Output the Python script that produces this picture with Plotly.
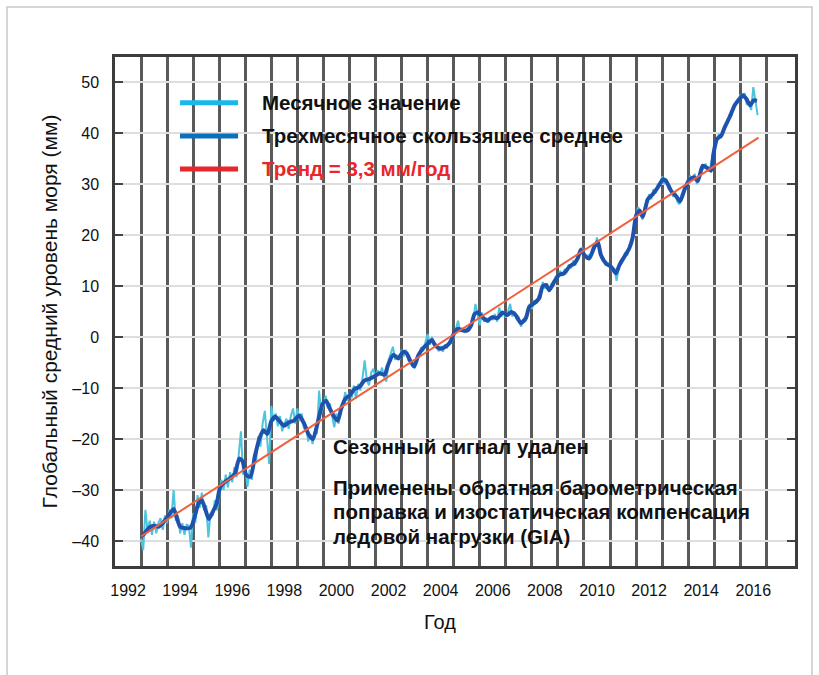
import plotly.graph_objects as go

# Global mean sea level, monthly values (mm), starting January 1993
START_YEAR = 1993.0
MONTHLY_MM = [
    # 1993
    -39.5, -41.8, -33.9, -38.0, -36.0, -38.8, -36.2, -38.5, -36.5, -35.5, -37.8, -35.0,
    # 1994
    -36.5, -33.8, -35.5, -30.0, -36.0, -35.0, -38.5, -36.5, -38.8, -36.8, -37.0, -41.3,
    # 1995
    -34.5, -36.5, -31.0, -33.5, -30.5, -34.0, -33.0, -39.3, -34.5, -35.0, -32.0, -34.0,
    # 1996
    -31.5, -28.0, -30.0, -27.0, -29.5, -26.5, -28.5, -25.5, -27.5, -22.5, -18.5, -27.0,
    # 1997
    -25.5, -29.4, -26.0, -28.0, -23.0, -24.5, -19.5, -21.5, -17.0, -14.5, -19.0, -24.9,
    # 1998
    -13.5, -16.5, -15.0, -17.5, -15.5, -18.5, -17.0, -16.0, -18.0, -15.5, -14.0, -17.0,
    # 1999
    -14.0, -16.5, -15.0, -18.0, -17.5, -20.5, -19.0, -21.0, -18.5, -19.0, -10.5, -15.0,
    # 2000
    -13.5, -11.5, -14.0, -13.0, -15.5, -17.7, -15.0, -17.0, -13.5, -13.5, -10.8, -12.5,
    # 2001
    -11.0, -12.0, -9.5, -12.1, -9.2, -10.5, -8.0, -4.6, -8.5, -9.5, -7.0, -6.2,
    # 2002
    -8.0, -6.5, -7.5, -6.0, -8.0, -8.7, -4.5, -3.3, -1.9, -4.5, -3.5, -4.5,
    # 2003
    -2.5, -3.8, -2.5, -4.5, -5.0, -5.8, -6.0, -4.0, -3.8, -2.0, -2.8, -1.0,
    # 2004
    0.6, -1.5, 0.0, -1.5, -1.5, -2.8, -1.8, -2.9, -1.5, -2.0, -0.8, -1.0,
    # 2005
    0.0, 1.5, 3.2, 1.0, 1.8, 0.8, 1.8, 1.2, 2.8, 3.2, 6.5, 4.5,
    # 2006
    2.3, 4.8, 3.0, 3.8, 2.8, 4.0, 3.5, 4.5, 3.0, 5.8, 4.0, 5.0,
    # 2007
    3.8, 5.0, 6.5, 4.0, 5.0, 3.5, 3.8, 2.0, 3.5, 3.0, 5.0, 6.5,
    # 2008
    5.5, 7.2, 6.5, 8.0, 7.8, 10.8, 9.5, 10.5, 8.8, 10.5, 10.0, 12.0,
    # 2009
    11.5, 13.0, 12.0, 13.2, 12.8, 14.2, 13.5, 15.0, 14.0, 16.0, 16.5, 17.5,
    # 2010
    16.5, 15.5, 16.0, 15.5, 17.5, 17.5, 19.5, 17.5, 15.5, 15.5, 14.0, 14.5,
    # 2011
    14.0, 13.0, 13.5, 11.0, 13.5, 15.0, 15.0, 16.5, 16.0, 18.0, 18.5, 22.0,
    # 2012
    23.5, 25.5, 24.0, 23.0, 25.5, 26.5, 28.0, 27.0, 29.0, 28.2, 30.0, 29.5,
    # 2013
    31.5, 30.0, 31.0, 29.0, 29.0, 27.5, 28.5, 26.5, 26.0, 28.0, 28.0, 30.0,
    # 2014
    30.5, 31.5, 31.0, 32.0, 30.0, 31.5, 33.5, 33.0, 34.0, 32.5, 33.0, 35.0,
    # 2015
    37.0, 38.0, 39.8, 39.0, 40.5, 41.5, 42.0, 43.5, 43.5, 45.5, 46.0, 46.0,
    # 2016
    47.5, 47.0, 47.8, 45.5, 46.0, 44.5, 49.0, 45.8, 43.5,
]

# Three-month running mean (decimal year, mm)
SMOOTH_YEARS = [
    1993.0, 1993.1, 1993.3, 1993.5, 1993.67, 1993.85, 1994.05, 1994.25, 1994.37, 1994.5,
    1994.7, 1994.9, 1995.05, 1995.2, 1995.33, 1995.46, 1995.6, 1995.78, 1995.9, 1996.04,
    1996.23, 1996.42, 1996.6, 1996.77, 1996.9, 1997.04, 1997.2, 1997.38, 1997.55, 1997.7,
    1997.85, 1998.0, 1998.15, 1998.3, 1998.49, 1998.68, 1998.87, 1999.07, 1999.26, 1999.45,
    1999.6, 1999.77, 1999.97, 2000.1, 2000.25, 2000.42, 2000.55, 2000.68, 2000.84, 2001.0,
    2001.19, 2001.38, 2001.58, 2001.77, 2001.96, 2002.15, 2002.35, 2002.48, 2002.68, 2002.87,
    2003.06, 2003.19, 2003.32, 2003.48, 2003.65, 2003.84, 2004.03, 2004.16, 2004.29, 2004.48,
    2004.68, 2004.87, 2005.0, 2005.15, 2005.32, 2005.52, 2005.67, 2005.8, 2005.93, 2006.1,
    2006.29, 2006.48, 2006.68, 2006.87, 2007.06, 2007.2, 2007.38, 2007.58, 2007.77, 2007.9,
    2008.09, 2008.28, 2008.41, 2008.54, 2008.67, 2008.86, 2009.05, 2009.24, 2009.44, 2009.63,
    2009.76, 2009.88, 2010.01, 2010.2, 2010.4, 2010.53, 2010.65, 2010.85, 2011.04, 2011.23,
    2011.36, 2011.55, 2011.74, 2011.87, 2012.0, 2012.13, 2012.26, 2012.45, 2012.64, 2012.83,
    2013.03, 2013.15, 2013.35, 2013.54, 2013.69, 2013.86, 2014.05, 2014.24, 2014.37, 2014.56,
    2014.72, 2014.88, 2014.97, 2015.1, 2015.27, 2015.4, 2015.59, 2015.78, 2015.97, 2016.1,
    2016.23, 2016.38, 2016.51, 2016.64,
]
SMOOTH_MM = [
    -39.0, -38.7, -37.4, -37.0, -37.2, -36.4, -35.0, -33.7, -35.4, -37.2,
    -37.5, -37.4, -35.4, -32.7, -32.0, -33.7, -35.7, -34.0, -32.7, -29.4,
    -28.4, -27.7, -26.8, -23.8, -24.4, -27.1, -27.4, -23.1, -19.8, -18.3,
    -19.0, -16.5, -15.6, -16.4, -17.4, -16.7, -16.4, -15.4, -17.0, -19.3,
    -20.0, -17.0, -13.1, -12.5, -14.1, -15.7, -16.4, -14.1, -12.1, -11.5,
    -10.2, -9.8, -8.5, -8.2, -7.7, -7.1, -7.4, -5.5, -3.5, -4.2,
    -2.9, -3.2, -4.5, -5.8, -3.5, -2.1, -1.2, -0.6, -1.6, -2.3,
    -1.9, -1.0, 0.6, 1.6, 1.3, 1.3, 2.3, 4.5, 4.8, 3.9,
    3.2, 3.9, 3.7, 4.8, 4.3, 4.9, 4.3, 2.7, 3.7, 5.9,
    6.6, 7.6, 9.9, 10.2, 9.2, 10.85, 12.2, 12.5, 13.8, 14.4,
    15.4, 17.1, 16.1, 15.4, 17.7, 18.7, 16.1, 14.4, 13.8, 12.5,
    14.1, 15.75, 17.4, 19.5, 23.8, 24.8, 23.6, 27.0, 28.0, 29.3,
    30.9, 30.6, 28.6, 27.6, 26.6, 28.9, 30.9, 31.3, 30.6, 33.6,
    33.2, 32.6, 35.9, 38.8, 39.5, 41.1, 43.1, 45.4, 46.7, 47.4,
    46.7, 45.4, 46.4, 46.3,
]

# Linear trend
TREND_RATE = 3.3          # mm per year
TREND_ZERO_YEAR = 2004.85
TREND_SPAN = [1993.0, 2016.7]

TICK_YEARS = list(range(1992, 2017, 2))
GRID_YEARS = list(range(1993, 2018))
Y_TICKS = list(range(-40, 51, 10))

LEGEND_LABELS = ["Месячное значение", "Трехмесячное скользящее среднее", "Тренд = 3,3 мм/год"]
NOTE_LINES = [
    "Сезонный сигнал удален",
    "Применены обратная барометрическая",
    "поправка и изостатическая компенсация",
    "ледовой нагрузки (GIA)",
]
X_TITLE = "Год"
Y_TITLE = "Глобальный средний уровень моря (мм)"

FONT = "Liberation Sans, Arial, Helvetica, sans-serif"
C_MONTHLY = "#4ec4de"
C_SMOOTH = "#1f52ad"
C_TREND = "#f0603e"
LEG_COLORS = ["#19b8ea", "#0a6fbd", "#e8262b"]

month_years = [START_YEAR + k / 12.0 for k in range(len(MONTHLY_MM))]
trend_mm = [TREND_RATE * (t - TREND_ZERO_YEAR) for t in TREND_SPAN]

fig = go.Figure()
fig.add_trace(go.Scatter(x=month_years, y=MONTHLY_MM, mode="lines",
                         line=dict(color=C_MONTHLY, width=2), name=LEGEND_LABELS[0]))
fig.add_trace(go.Scatter(x=SMOOTH_YEARS, y=SMOOTH_MM, mode="lines",
                         line=dict(color=C_SMOOTH, width=4, shape="spline", smoothing=0.6),
                         name=LEGEND_LABELS[1]))
fig.add_trace(go.Scatter(x=TREND_SPAN, y=trend_mm, mode="lines",
                         line=dict(color=C_TREND, width=2), name=LEGEND_LABELS[2]))

# Legend drawn as swatches + bold labels inside the plot
shapes = []
annotations = []
leg_y = [0.910, 0.845, 0.780]
for label, color, yy in zip(LEGEND_LABELS, LEG_COLORS, leg_y):
    shapes.append(dict(type="line", xref="paper", yref="paper", x0=0.0956, x1=0.181,
                       y0=yy, y1=yy, line=dict(color=color, width=5)))
    annotations.append(dict(xref="paper", yref="paper", x=0.213, y=yy, xanchor="left",
                            yanchor="middle", showarrow=False, text=f"<b>{label}</b>",
                            font=dict(family=FONT, size=20.5,
                                      color="#e8262b" if color == "#e8262b" else "#111")))

note_y = [0.2338, 0.1552, 0.1061, 0.0570]
for line, yy in zip(NOTE_LINES, note_y):
    annotations.append(dict(xref="paper", yref="paper", x=0.3176, y=yy, xanchor="left",
                            yanchor="middle", showarrow=False, text=f"<b>{line}</b>",
                            font=dict(family=FONT, size=20.5, color="#111")))

# X axis title
annotations.append(dict(xref="paper", yref="paper", x=0.478, y=-0.110, xanchor="center",
                        yanchor="middle", showarrow=False, text=X_TITLE,
                        font=dict(family=FONT, size=20, color="#111")))

# Outer panel border
shapes.append(dict(type="rect", xref="paper", yref="paper", x0=-0.1588, x1=1.025,
                   y0=-0.35, y1=1.098, line=dict(color="#c9c9c9", width=1.5),
                   layer="below"))

fig.update_layout(
    width=819, height=675,
    margin=dict(l=115, r=24, t=57, b=109),
    paper_bgcolor="white", plot_bgcolor="white",
    showlegend=False,
    font=dict(family=FONT, size=16, color="#111"),
    shapes=shapes, annotations=annotations,
)
fig.update_xaxes(
    range=[1992, 2018.1],
    tickmode="array", tickvals=[y + 0.5 for y in TICK_YEARS],
    ticktext=[str(y) for y in TICK_YEARS],
    ticks="", showgrid=False, zeroline=False,
    showline=True, mirror=True, linecolor="#3c3c3c", linewidth=2.5,
    tickfont=dict(size=16), ticklabelstandoff=8,
    minor=dict(tickmode="array", tickvals=GRID_YEARS, showgrid=True,
               gridcolor="#5a5a5a", gridwidth=2.5, ticks=""),
)
fig.update_yaxes(
    range=[-44.9, 54.9],
    tickmode="array", tickvals=Y_TICKS,
    ticktext=[("\u2013" + str(abs(v))) if v < 0 else str(v) for v in Y_TICKS],
    ticks="inside", ticklen=8, tickwidth=2, tickcolor="#444",
    showgrid=True, gridcolor="#dedede", gridwidth=2, zeroline=False,
    showline=True, mirror="ticks", linecolor="#3c3c3c", linewidth=2.5,
    tickfont=dict(size=16), ticklabelstandoff=10,
    title=dict(text=Y_TITLE, font=dict(size=21), standoff=9),
)

fig.write_html("out.html")
